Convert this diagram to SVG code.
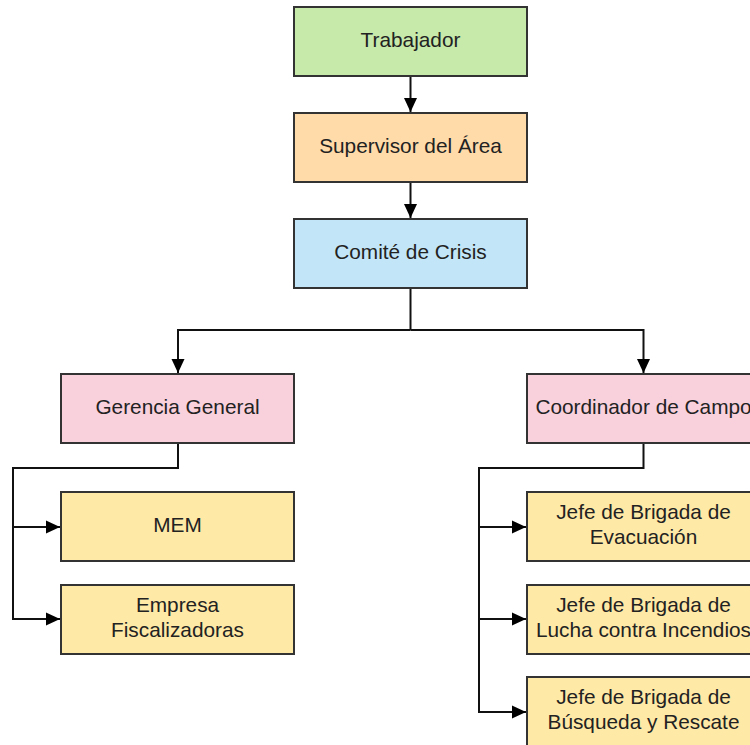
<svg xmlns="http://www.w3.org/2000/svg" width="750" height="745" viewBox="0 0 750 745">
<style>
.box{stroke:#333;stroke-width:2}
.t{font-family:"Liberation Sans",Arial,sans-serif;font-size:20.8px;fill:#222;text-anchor:middle}
.c{fill:none;stroke:#111;stroke-width:2}
</style>
<defs>
<marker id="ah" viewBox="0 0 14 14" refX="14" refY="7" markerWidth="14" markerHeight="14" markerUnits="userSpaceOnUse" orient="auto">
<path d="M0,0.5 L14,7 L0,13.5 Z" fill="#000"/>
</marker>
</defs>
<rect width="750" height="745" fill="#fff"/>
<g id="connectors">
<path class="c" d="M410.5,77 V112" marker-end="url(#ah)"/>
<path class="c" d="M410.5,183 V218" marker-end="url(#ah)"/>
<path class="c" d="M410.5,289 V330"/>
<path class="c" d="M410.5,330 H178 V373" marker-end="url(#ah)"/>
<path class="c" d="M410.5,330 H643.5 V373" marker-end="url(#ah)"/>
<path class="c" d="M178,444 V468 H13 V619 H60" marker-end="url(#ah)"/>
<path class="c" d="M13,527 H60" marker-end="url(#ah)"/>
<path class="c" d="M643.5,444 V468 H479 V712 H526" marker-end="url(#ah)"/>
<path class="c" d="M479,527 H526" marker-end="url(#ah)"/>
<path class="c" d="M479,619 H526" marker-end="url(#ah)"/>
</g>
<g id="trabajador"><rect class="box" x="294" y="7" width="233" height="69" fill="#c7e9aa"/><text class="t" x="410.5" y="47">Trabajador</text></g>
<g id="supervisor"><rect class="box" x="294" y="113" width="233" height="69" fill="#ffdba9"/><text class="t" x="410.5" y="153">Supervisor del Área</text></g>
<g id="comite"><rect class="box" x="294" y="219" width="233" height="69" fill="#c2e6f7"/><text class="t" x="410.5" y="259">Comité de Crisis</text></g>
<g id="gerencia"><rect class="box" x="61" y="374" width="233" height="69" fill="#f9d1dd"/><text class="t" x="177.5" y="414">Gerencia General</text></g>
<g id="coordinador"><rect class="box" x="527" y="374" width="233" height="69" fill="#f9d1dd"/><text class="t" x="643.5" y="414">Coordinador de Campo</text></g>
<g id="mem"><rect class="box" x="61" y="492" width="233" height="69" fill="#ffe9a6"/><text class="t" x="177.5" y="532">MEM</text></g>
<g id="empresa"><rect class="box" x="61" y="585" width="233" height="69" fill="#ffe9a6"/><text class="t" x="177.5" y="612">Empresa</text><text class="t" x="177.5" y="637">Fiscalizadoras</text></g>
<g id="evacuacion"><rect class="box" x="527" y="492" width="233" height="69" fill="#ffe9a6"/><text class="t" x="643.5" y="519">Jefe de Brigada de</text><text class="t" x="643.5" y="544">Evacuación</text></g>
<g id="incendios"><rect class="box" x="527" y="585" width="233" height="69" fill="#ffe9a6"/><text class="t" x="643.5" y="612">Jefe de Brigada de</text><text class="t" x="643.5" y="637">Lucha contra Incendios</text></g>
<g id="rescate"><rect class="box" x="527" y="677" width="233" height="69" fill="#ffe9a6"/><text class="t" x="643.5" y="704">Jefe de Brigada de</text><text class="t" x="643.5" y="729">Búsqueda y Rescate</text></g>
</svg>
